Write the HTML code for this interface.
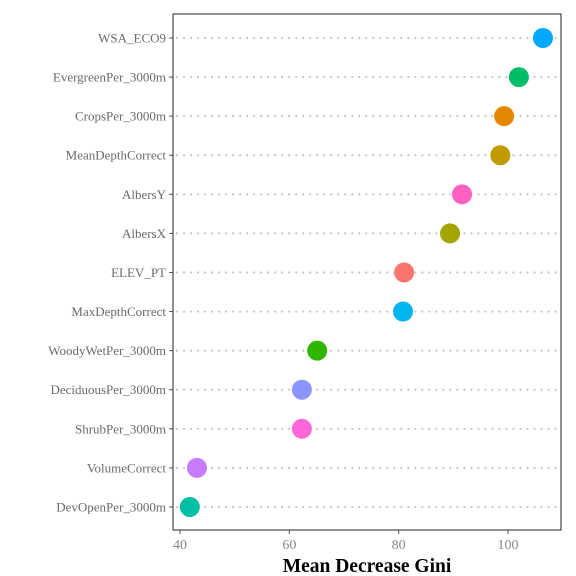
<!DOCTYPE html>
<html><head><meta charset="utf-8"><style>body{margin:0;background:#fff}svg{display:block}</style></head>
<body>
<svg width="576" height="576" xmlns="http://www.w3.org/2000/svg" id="chart"></svg>
<script>
const categories=["WSA_ECO9","EvergreenPer_3000m","CropsPer_3000m","MeanDepthCorrect","AlbersY","AlbersX","ELEV_PT","MaxDepthCorrect","WoodyWetPer_3000m","DeciduousPer_3000m","ShrubPer_3000m","VolumeCorrect","DevOpenPer_3000m"];
const values=[106.4,102.0,99.3,98.6,91.6,89.4,81.0,80.8,65.1,62.3,62.3,43.1,41.8];
const colors=["#00A9FF","#00BE67","#E58700","#C09B00","#FF61C3","#A3A500","#F8766D","#00B4EF","#2FB600","#8C94FF","#FF67D8","#C77CFF","#00BFA5"];
const xTicks=[40,60,80,100];
const svg=document.getElementById('chart');
const NS='http://www.w3.org/2000/svg';
const L=173,R=561,T=14,B=530;
const x=v=>180+(v-40)*5.466;
const y=i=>38+i*39.08;
function mk(t,a,p){const e=document.createElementNS(NS,t);for(const k in a)e.setAttribute(k,a[k]);(p||svg).appendChild(e);return e;}
categories.forEach((c,i)=>{
 const ln=mk('line',{x1:L+4,x2:R,y1:y(i),y2:y(i),stroke:'#c4c4c4','stroke-width':2.2,'stroke-dasharray':'0.01,7','stroke-linecap':'round'});
 
 
 const tk=mk('line',{x1:L-4,x2:L,y1:y(i),y2:y(i),stroke:'#555'});
 
 
 const tx=mk('text',{x:L-7,y:y(i)+4.5,'text-anchor':'end','font-family':'Liberation Serif, serif','font-size':13,fill:'#6a6a6a'});
 tx.textContent=c;
 
 
});
values.forEach((v,i)=>{
 const d=mk('circle',{cx:x(v),cy:y(i),r:10,fill:colors[i]});
 
 
});
const fr=mk('rect',{x:L,y:T,width:R-L,height:B-T,fill:'none',stroke:'#222','stroke-width':1});


xTicks.forEach(t=>{
 const tk=mk('line',{x1:x(t),x2:x(t),y1:B,y2:B+4,stroke:'#555'});
 
 
 const tx=mk('text',{x:x(t),y:B+19,'text-anchor':'middle','font-family':'Liberation Serif, serif','font-size':14,fill:'#888'});
 tx.textContent=t;
 
 
});
const ti=mk('text',{x:367,y:572,'text-anchor':'middle','font-family':'Liberation Serif, serif','font-size':19.5,'font-weight':'bold',fill:'#000'});
ti.textContent='Mean Decrease Gini';


</script>
</body></html>
